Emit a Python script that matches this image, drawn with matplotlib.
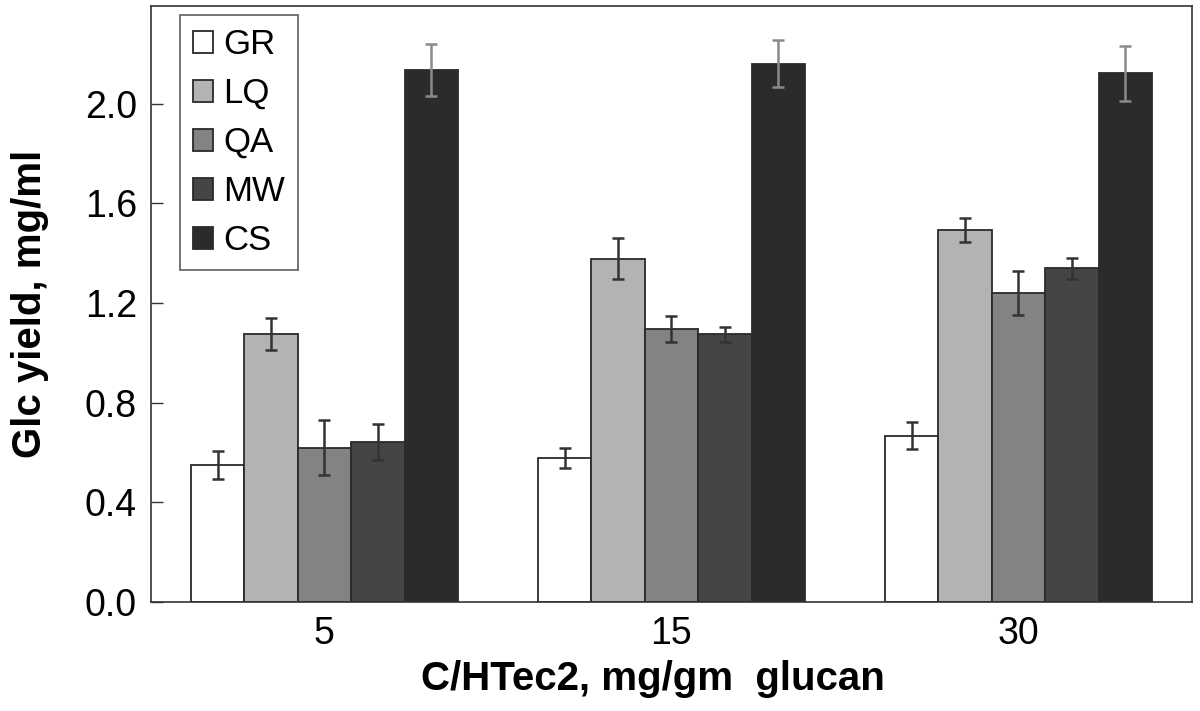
import matplotlib
matplotlib.use("Agg")
import matplotlib.pyplot as plt
import numpy as np

plt.rcParams['font.family'] = ['Liberation Sans', 'DejaVu Sans']

categories = ["5", "15", "30"]
series = ["GR", "LQ", "QA", "MW", "CS"]
values = {
    "GR": [0.55, 0.578, 0.667],
    "LQ": [1.075, 1.378, 1.493],
    "QA": [0.619, 1.097, 1.240],
    "MW": [0.642, 1.075, 1.339],
    "CS": [2.135, 2.161, 2.121],
}
errors = {
    "GR": [0.058, 0.040, 0.054],
    "LQ": [0.065, 0.083, 0.047],
    "QA": [0.110, 0.052, 0.089],
    "MW": [0.073, 0.030, 0.043],
    "CS": [0.105, 0.095, 0.111],
}
colors = {"GR": "#ffffff", "LQ": "#b3b3b3", "QA": "#838383", "MW": "#454545", "CS": "#2b2b2b"}
err_colors = {"GR": "#333333", "LQ": "#333333", "QA": "#333333", "MW": "#333333", "CS": "#8a8a8a"}
yticks = [0.0, 0.4, 0.8, 1.2, 1.6, 2.0]

fig = plt.figure(figsize=(12, 7.11), dpi=100)
ax = fig.add_axes([0.1258, 0.1533, 0.8675, 0.8383])

x = np.arange(len(categories))
w = 0.154
n = len(series)
for i, s in enumerate(series):
    pos = x + (i - (n - 1) / 2) * w
    ax.bar(pos, values[s], width=w, color=colors[s], edgecolor="#2a2a2a",
           linewidth=1.3, label=s, zorder=2)
    ax.errorbar(pos, values[s], yerr=errors[s], fmt="none", ecolor=err_colors[s],
                elinewidth=1.8, capsize=4.5, capthick=1.8, zorder=3)

ax.set_xlim(-0.5, 2.5)
ax.set_ylim(0, 2.392)
ax.set_xticks(x)
ax.set_xticklabels(categories)
ax.set_yticks(yticks)
ax.set_yticklabels([f"{t:.1f}" for t in yticks])
ax.tick_params(axis="y", direction="in", length=8.5, width=1.0, color="#333333",
               labelsize=27, pad=10)
ax.tick_params(axis="x", length=0, labelsize=27, pad=10)
for sp in ax.spines.values():
    sp.set_color("#333333")
    sp.set_linewidth(1.2)

ax.set_xlabel("C/HTec2, mg/gm  glucan", fontsize=29, fontweight="bold")
ax.xaxis.set_label_coords(0.482, -0.097)
ax.set_ylabel("Glc yield, mg/ml", fontsize=29, fontweight="bold", labelpad=26)

leg = ax.legend(loc="upper left", bbox_to_anchor=(0.028, 0.985), borderaxespad=0,
                fontsize=25, frameon=True, fancybox=False, handlelength=0.58,
                handleheight=0.58, handletextpad=0.29, labelspacing=0.46,
                borderpad=0.38)
leg.get_frame().set_edgecolor("#333333")
leg.get_frame().set_linewidth(1.2)

fig.savefig("out.png", dpi=100)
